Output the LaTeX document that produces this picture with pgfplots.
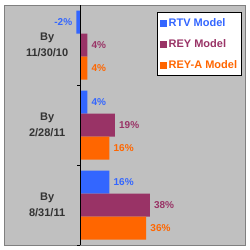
\documentclass[border=0pt]{standalone}
\usepackage{pgfplots}
\pgfplotsset{compat=1.18}
\usepackage{fontspec}
\setmainfont{Liberation Sans}
\definecolor{rtv}{HTML}{3366FF}
\definecolor{rey}{HTML}{993366}
\definecolor{reya}{HTML}{FF6600}
\definecolor{bg}{HTML}{C0C0C0}
\definecolor{frm}{HTML}{808080}
\definecolor{lab}{HTML}{333333}
\begin{document}
\begin{tikzpicture}
\useasboundingbox (0,0) rectangle (250pt,250pt);
\begin{axis}[
 at={(5pt,5pt)}, anchor=south west,
 scale only axis, width=240pt, height=240pt,
 xbar, bar width=23pt,
 xmin=-40.8, xmax=89.7, ymin=-0.5, ymax=2.5, y dir=reverse,
 axis background/.style={fill=bg},
 axis line style={draw=frm, line width=1pt},
 xtick=\empty, ytick=\empty,
 point meta=x,
 nodes near coords={\pgfmathprintnumber\pgfplotspointmeta\%},
 nodes near coords align=horizontal,
 every node near coord/.append style={font=\fontsize{10}{12}\selectfont\bfseries, inner xsep=4pt},
 /pgf/number format/assume math mode=true,
 legend style={at={(0.9875,0.971)}, anchor=north east, draw=black, line width=0.8pt, fill=white,
   font=\fontsize{11}{13}\selectfont\bfseries, inner xsep=2.5pt, inner ysep=4pt, row sep=7.5pt},
 legend cell align=left,
 legend image code/.code={\fill[#1,draw=none] (0pt,-3.5pt) rectangle (7pt,3.5pt);},
 clip=false,
]
\addplot[fill=rtv, draw=none, bar shift=23pt, every node near coord/.append style={text=rtv}] coordinates {(-2,0) (4,1) (16,2)};
\addplot[fill=rey, draw=none, bar shift=0pt, every node near coord/.append style={text=rey}] coordinates {(4,0) (19,1) (38,2)};
\addplot[fill=reya, draw=none, bar shift=-23pt, every node near coord/.append style={text=reya}] coordinates {(4,0) (16,1) (36,2)};
\addlegendentry{\textcolor{rtv}{RTV Model}}
\addlegendentry{\textcolor{rey}{REY Model}}
\addlegendentry{\textcolor{reya}{REY-A Model}}
\draw[black, line width=1pt] (axis cs:0,-0.5) -- (axis cs:0,2.5);
\draw[black, line width=1pt] (axis cs:0,0.5) -- ++(-3pt,0pt);
\draw[black, line width=1pt] (axis cs:0,1.5) -- ++(-3pt,0pt);
\draw[black, line width=1pt] (axis cs:0,2.5) -- ++(-3pt,0pt);
\node[align=center, font=\fontsize{11}{16}\selectfont\bfseries, text=lab] at (axis cs:-17.9,0) {By\\11/30/10};
\node[align=center, font=\fontsize{11}{16}\selectfont\bfseries, text=lab] at (axis cs:-17.9,1) {By\\2/28/11};
\node[align=center, font=\fontsize{11}{16}\selectfont\bfseries, text=lab] at (axis cs:-17.9,2) {By\\8/31/11};
\end{axis}
\end{tikzpicture}
\end{document}
